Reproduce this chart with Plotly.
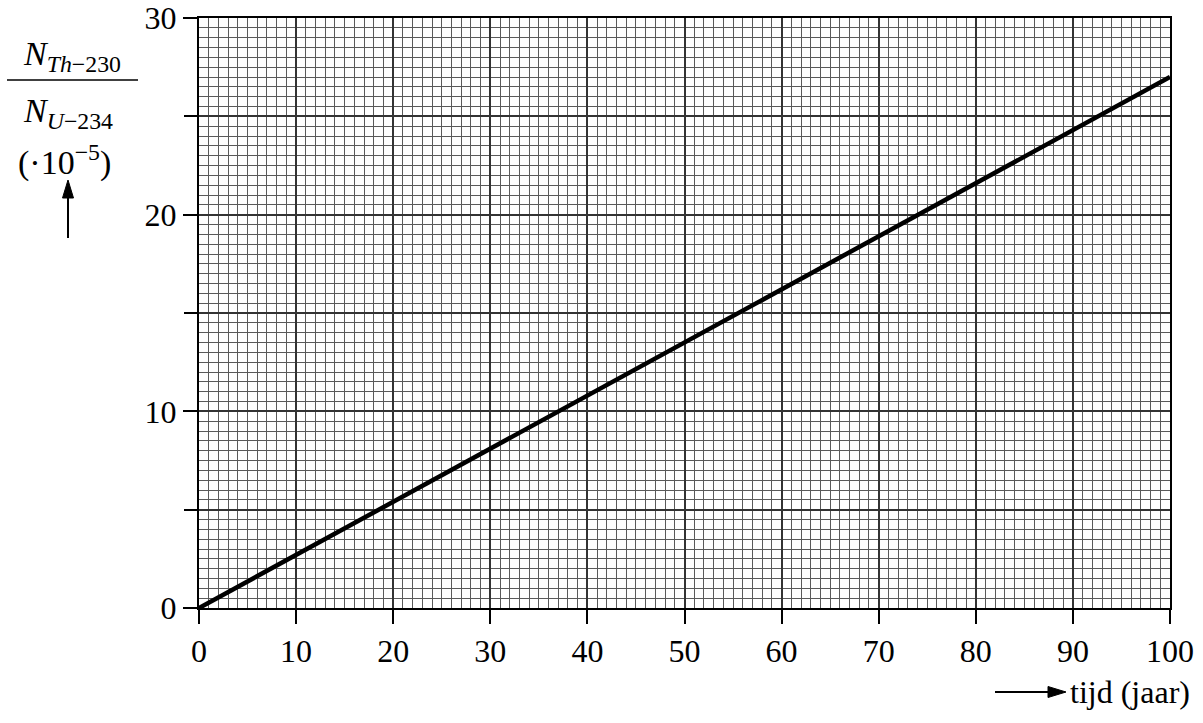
import plotly.graph_objects as go

# Data
tijd = [0, 50, 100]                 # years
ratio = [0.0, 13.5, 27.0]           # N_Th-230 / N_U-234 (·10^-5)

x_ticks = [0, 10, 20, 30, 40, 50, 60, 70, 80, 90, 100]
x_ticktext = [str(v) for v in x_ticks]
y_ticks = [0, 10, 20, 30]
y_ticktext = [str(v) for v in y_ticks]
y_half_ticks = [5, 15, 25]

FONT = "Liberation Serif, Times New Roman, serif"
FS = 32

W, H = 1203, 723
L, R, T, B = 199, 33, 18, 115
pw = W - L - R
ph = H - T - B


def px(x):
    return (x - L) / pw


def py(y):
    return (H - B - y) / ph


fig = go.Figure()
fig.add_trace(go.Scatter(
    x=tijd, y=ratio, mode="lines",
    line=dict(color="black", width=4.5),
    hoverinfo="skip", showlegend=False,
))
# empty trace on helper axis carrying the half-decade ticks
fig.add_trace(go.Scatter(
    x=[None], y=[None], yaxis="y2", mode="lines",
    hoverinfo="skip", showlegend=False,
))

MAJOR_C, MAJOR_W = "#333", 2
MINOR_C, MINOR_W = "#5a5a5a", 1

fig.update_layout(
    width=W, height=H,
    margin=dict(l=L, r=R, t=T, b=B, autoexpand=False),
    paper_bgcolor="white", plot_bgcolor="white",
    font=dict(family=FONT, size=FS, color="black"),
    showlegend=False,
    yaxis2=dict(
        overlaying="y", side="left", range=[0, 30],
        tickvals=y_half_ticks, showticklabels=False,
        ticks="outside", ticklen=14, tickwidth=2, tickcolor="black",
        showgrid=True, gridcolor=MAJOR_C, gridwidth=MAJOR_W,
        zeroline=False, showline=False, automargin=False,
    ),
)

fig.update_xaxes(
    range=[0, 100],
    tickvals=x_ticks, ticktext=x_ticktext,
    ticks="outside", ticklen=14, tickwidth=2, tickcolor="black",
    showgrid=True, gridcolor=MAJOR_C, gridwidth=MAJOR_W,
    minor=dict(dtick=1, tick0=0, showgrid=True, gridcolor=MINOR_C, gridwidth=MINOR_W, ticks=""),
    showline=True, linecolor="black", linewidth=2, mirror=True,
    zeroline=False, automargin=False, ticklabeloverflow="allow",
    tickfont=dict(family=FONT, size=FS),
)
fig.layout.yaxis.update(
    range=[0, 30],
    tickvals=y_ticks, ticktext=y_ticktext,
    ticks="outside", ticklen=14, tickwidth=2, tickcolor="black",
    showgrid=True, gridcolor=MAJOR_C, gridwidth=MAJOR_W,
    minor=dict(dtick=0.5, tick0=0, showgrid=True, gridcolor=MINOR_C, gridwidth=MINOR_W, ticks=""),
    showline=True, linecolor="black", linewidth=2, mirror=True,
    zeroline=False, automargin=False, ticklabeloverflow="allow",
    tickfont=dict(family=FONT, size=FS),
)

# Y-axis label: fraction
fig.add_annotation(
    x=px(72), y=py(56), xref="paper", yref="paper",
    text="<i>N</i><sub><i>Th</i>−230</sub>", showarrow=False,
    font=dict(family=FONT, size=34), xanchor="center", yanchor="middle",
)
fig.add_shape(
    type="line", xref="paper", yref="paper",
    x0=px(7), x1=px(138), y0=py(80), y1=py(80),
    line=dict(color="black", width=1.5),
)
fig.add_annotation(
    x=px(68), y=py(113), xref="paper", yref="paper",
    text="<i>N</i><sub><i>U</i>−234</sub>", showarrow=False,
    font=dict(family=FONT, size=34), xanchor="center", yanchor="middle",
)
fig.add_annotation(
    x=px(64), y=py(160), xref="paper", yref="paper",
    text="(·10<sup>−5</sup>)", showarrow=False,
    font=dict(family=FONT, size=34), xanchor="center", yanchor="middle",
)

# up arrow (shaft + head)
fig.add_shape(
    type="line", xref="paper", yref="paper",
    x0=px(68), x1=px(68), y0=py(238), y1=py(196),
    line=dict(color="black", width=2),
)
fig.add_shape(
    type="path", xref="paper", yref="paper",
    path=f"M {px(68)} {py(180)} L {px(62.5)} {py(198)} L {px(73.5)} {py(198)} Z",
    fillcolor="black", line=dict(color="black", width=1),
)

# right arrow before x-axis label
fig.add_shape(
    type="line", xref="paper", yref="paper",
    x0=px(995), x1=px(1050), y0=py(692), y1=py(692),
    line=dict(color="black", width=2),
)
fig.add_shape(
    type="path", xref="paper", yref="paper",
    path=f"M {px(1066)} {py(692)} L {px(1048)} {py(686.5)} L {px(1048)} {py(697.5)} Z",
    fillcolor="black", line=dict(color="black", width=1),
)
fig.add_annotation(
    x=px(1068), y=py(692), xref="paper", yref="paper",
    text="tijd (jaar)", showarrow=False,
    font=dict(family=FONT, size=FS), xanchor="left", yanchor="middle",
)

fig.write_html(
    "out.html",
    config={"displayModeBar": False},
    post_script="document.body.style.margin='0';document.body.style.overflow='hidden';",
)
